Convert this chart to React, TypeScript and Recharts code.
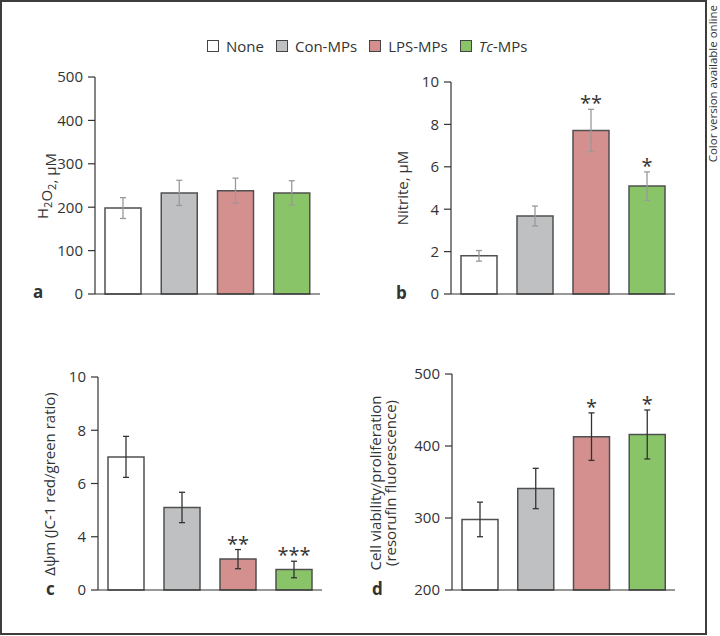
import React from "react";
import { BarChart, Bar, XAxis, YAxis, ErrorBar, Cell, LabelList } from "recharts";

// groups and colours
const GROUPS = ["None", "Con-MPs", "LPS-MPs", "Tc-MPs"];
const FILLS = ["#ffffff", "#bfc0c2", "#d48f8f", "#89c468"];

// a: H2O2, µM
const H2O2 = [198, 233, 238, 233];
const H2O2_ERR = [24, 29, 29, 28];
const H2O2_TICKS = [0, 100, 200, 300, 400, 500];
const H2O2_TICK_LABELS = ["0", "100", "200", "300", "400", "500"];

// b: nitrite, µM
const NITRITE = [1.8, 3.68, 7.71, 5.09];
const NITRITE_ERR = [0.25, 0.47, 1.0, 0.67];
const NITRITE_STARS = ["", "", "**", "*"];
const NITRITE_TICKS = [0, 2, 4, 6, 8, 10];
const NITRITE_TICK_LABELS = ["0", "2", "4", "6", "8", "10"];

// c: delta psi m (JC-1 red/green ratio) - bottom tick is labelled 0 in the original
const DPSI = [7.0, 5.1, 3.16, 2.77];
const DPSI_ERR = [0.77, 0.57, 0.36, 0.31];
const DPSI_STARS = ["", "", "**", "***"];
const DPSI_TICKS = [2, 4, 6, 8, 10];
const DPSI_TICK_LABELS = ["0", "4", "6", "8", "10"];

// d: cell viability (resorufin fluorescence)
const VIAB = [298, 341, 413, 416];
const VIAB_ERR = [24, 28, 33, 34];
const VIAB_STARS = ["", "", "*", "*"];
const VIAB_TICKS = [200, 300, 400, 500];
const VIAB_TICK_LABELS = ["200", "300", "400", "500"];

const FONT = "'Open Sans', 'Noto Sans', sans-serif";
const INK = "#333333";

type PanelProps = {
  left: number;
  top: number;
  width: number;
  height: number;
  values: number[];
  errs: number[];
  stars?: string[];
  domain: [number, number];
  ticks: number[];
  tickLabels: string[];
  axisW: number;
  mTop: number;
  mRight: number;
  mBottom: number;
  errColor: string;
};

const Panel: React.FC<PanelProps> = (p) => {
  const data = GROUPS.map((g, i) => ({
    name: g,
    value: p.values[i],
    err: p.errs[i],
    star: p.stars ? p.stars[i] : "",
  }));
  const base = p.domain[0];

  // star sits just above the error bar, pixel size taken from the bar itself
  const starLabel = (lp: any) => {
    const i = lp.index;
    const s = p.stars ? p.stars[i] : "";
    if (!s) return null;
    const x = Number(lp.x), y = Number(lp.y), w = Number(lp.width), h = Number(lp.height);
    const perUnit = h / (p.values[i] - base);
    const topY = y - p.errs[i] * perUnit;
    return (
      <text x={x + w / 2} y={topY + 1} textAnchor="middle" fontSize={20} fill={INK} fontFamily={FONT}>
        {s}
      </text>
    );
  };

  return (
    <div style={{ position: "absolute", left: p.left, top: p.top }}>
      <BarChart
        width={p.width}
        height={p.height}
        data={data}
        margin={{ top: p.mTop, right: p.mRight, bottom: p.mBottom, left: 0 }}
        barSize={36}
      >
        <XAxis
          dataKey="name"
          tick={false}
          tickLine={false}
          height={1}
          axisLine={{ stroke: INK, strokeWidth: 1.2 }}
        />
        <YAxis
          type="number"
          domain={p.domain}
          ticks={p.ticks}
          interval={0}
          width={p.axisW}
          tickSize={7}
          tickMargin={5}
          tickFormatter={(v: number, i: number) => p.tickLabels[i] ?? String(v)}
          tick={{ fill: INK, fontSize: 15, fontFamily: FONT }}
          axisLine={{ stroke: INK, strokeWidth: 1.2 }}
          tickLine={{ stroke: INK, strokeWidth: 1.2 }}
        />
        <Bar dataKey="value" stroke="#505050" strokeWidth={1.5} isAnimationActive={false}>
          {data.map((d, i) => (
            <Cell key={d.name} fill={FILLS[i]} />
          ))}
          <ErrorBar dataKey="err" width={3} stroke={p.errColor} strokeWidth={1.3} direction="y" />
          <LabelList dataKey="star" content={starLabel} />
        </Bar>
      </BarChart>
    </div>
  );
};

const Sub: React.FC<{ children: React.ReactNode }> = ({ children }) => (
  <>
    <tspan dy={4} fontSize={11}>{children}</tspan>
    <tspan dy={-4}></tspan>
  </>
);

export default function App() {
  return (
    <div style={{ position: "absolute", left: 0, top: 0, width: 720, height: 636, background: "#fff", fontFamily: FONT }}>
      <div
        style={{
          position: "absolute",
          left: 0,
          top: 0,
          width: 707,
          height: 635,
          border: "2px solid #3d3d3d",
          boxSizing: "border-box",
        }}
      />

      {/* legend */}
      <div
        style={{
          position: "absolute",
          left: 207,
          top: 36,
          display: "flex",
          alignItems: "center",
          fontSize: 15,
          color: INK,
          whiteSpace: "nowrap",
        }}
      >
        {GROUPS.map((g, i) => (
          <React.Fragment key={g}>
            <span
              style={{
                display: "inline-block",
                width: 10,
                height: 10,
                border: "1px solid #444",
                background: FILLS[i],
                marginRight: 7,
              }}
            />
            <span style={{ marginRight: 12 }}>
              {g === "Tc-MPs" ? (
                <>
                  <i>Tc</i>-MPs
                </>
              ) : (
                g
              )}
            </span>
          </React.Fragment>
        ))}
      </div>

      <Panel
        left={0} top={60} width={340} height={260}
        values={H2O2} errs={H2O2_ERR}
        domain={[0, 500]} ticks={H2O2_TICKS} tickLabels={H2O2_TICK_LABELS}
        axisW={95} mTop={17} mRight={20} mBottom={25}
        errColor="#9a9a9a"
      />
      <Panel
        left={360} top={60} width={340} height={260}
        values={NITRITE} errs={NITRITE_ERR} stars={NITRITE_STARS}
        domain={[0, 10]} ticks={NITRITE_TICKS} tickLabels={NITRITE_TICK_LABELS}
        axisW={91} mTop={22} mRight={25} mBottom={25}
        errColor="#9a9a9a"
      />
      <Panel
        left={0} top={340} width={340} height={280}
        values={DPSI} errs={DPSI_ERR} stars={DPSI_STARS}
        domain={[2, 10]} ticks={DPSI_TICKS} tickLabels={DPSI_TICK_LABELS}
        axisW={98} mTop={37} mRight={18} mBottom={29}
        errColor="#333333"
      />
      <Panel
        left={360} top={340} width={340} height={280}
        values={VIAB} errs={VIAB_ERR} stars={VIAB_STARS}
        domain={[200, 500]} ticks={VIAB_TICKS} tickLabels={VIAB_TICK_LABELS}
        axisW={92} mTop={34} mRight={25} mBottom={29}
        errColor="#333333"
      />

      {/* axis titles, panel letters, side note */}
      <svg
        width={720}
        height={636}
        style={{ position: "absolute", left: 0, top: 0, pointerEvents: "none", overflow: "visible" }}
        fontFamily={FONT}
        fill={INK}
      >
        <text x={48} y={186} transform="rotate(-90 48 186)" textAnchor="middle" fontSize={15}>
          H<Sub>2</Sub>O<Sub>2</Sub>, μM
        </text>
        <text x={408} y={188} transform="rotate(-90 408 188)" textAnchor="middle" fontSize={15}>
          Nitrite, μM
        </text>
        <text x={55} y={484} transform="rotate(-90 55 484)" textAnchor="middle" fontSize={15}>
          Δψm (JC-1 red/green ratio)
        </text>
        <text x={381} y={483} transform="rotate(-90 381 483)" textAnchor="middle" fontSize={15}>
          Cell viability/proliferation
        </text>
        <text x={396} y={483} transform="rotate(-90 396 483)" textAnchor="middle" fontSize={15}>
          (resorufin fluorescence)
        </text>

        <text x={33} y={298} fontSize={17} fontWeight="bold">a</text>
        <text x={396} y={299} fontSize={17} fontWeight="bold">b</text>
        <text x={46} y={595} fontSize={17} fontWeight="bold">c</text>
        <text x={372} y={595} fontSize={17} fontWeight="bold">d</text>

        <text x={-5} y={717} transform="rotate(-90)" textAnchor="end" fontSize={11.5}>
          Color version available online
        </text>
      </svg>
    </div>
  );
}
